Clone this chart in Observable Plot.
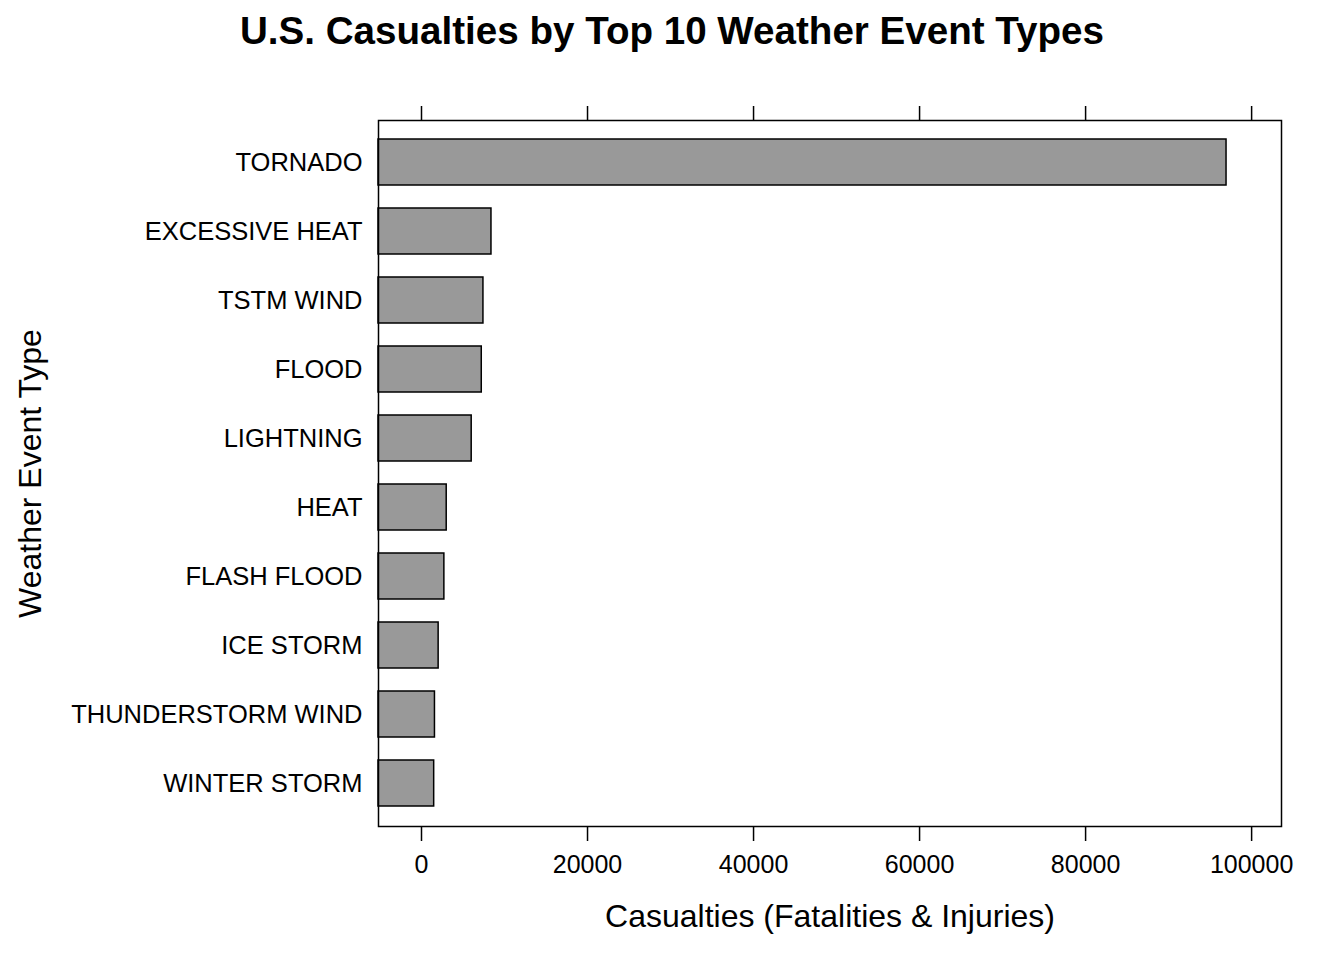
<!DOCTYPE html>
<html>
<head>
<meta charset="utf-8">
<script src="https://cdn.jsdelivr.net/npm/d3@7"></script>
<script src="https://cdn.jsdelivr.net/npm/@observablehq/plot@0.6"></script>
<style>
  html, body { margin: 0; padding: 0; background: #fff; }
  #title { width: 1344px; height: 60px; text-align: center; font-family: "Liberation Sans", Arial, sans-serif; font-weight: bold; font-size: 38.6px; line-height: 62px; color: #000; }
  svg { display: block; }
</style>
</head>
<body>
<div id="title">U.S. Casualties by Top 10 Weather Event Types</div>
<div id="chart"></div>
<script>
const eventTypes = ["TORNADO", "EXCESSIVE HEAT", "TSTM WIND", "FLOOD", "LIGHTNING", "HEAT", "FLASH FLOOD", "ICE STORM", "THUNDERSTORM WIND", "WINTER STORM"];
const casualties = [96979, 8428, 7461, 7259, 6046, 3037, 2755, 2064, 1621, 1527];
const xTicks = [0, 20000, 40000, 60000, 80000, 100000];
const xDomain = [-5180, 103600];

const data = eventTypes.map((t, i) => ({type: t, value: casualties[i]}));

const chart = Plot.plot({
  width: 1344,
  height: 900,
  marginTop: 60,
  marginBottom: 134,
  marginLeft: 378,
  marginRight: 63,
  style: {fontFamily: "'Liberation Sans', Arial, sans-serif", color: "#000", background: "#fff"},
  x: {domain: xDomain},
  y: {domain: eventTypes, type: "band", paddingInner: 0.333, paddingOuter: 0.267},
  marks: [
    Plot.barX(data, {y: "type", x1: () => xDomain[0], x2: "value", fill: "#999999", stroke: "#000", strokeWidth: 1.5}),
    Plot.frame({stroke: "#000", strokeWidth: 1.5}),
    Plot.axisX({anchor: "top", ticks: xTicks, tickSize: 15, tickFormat: () => "", strokeWidth: 1.5, label: null}),
    Plot.axisX({anchor: "bottom", ticks: xTicks, tickSize: 15, tickPadding: 14, tickFormat: d3.format("d"), fontSize: 25, strokeWidth: 1.5, label: null}),
    Plot.axisY({anchor: "left", tickSize: 0, tickPadding: 16, fontSize: 25.5, label: null}),
    Plot.text(["Casualties (Fatalities & Injuries)"], {frameAnchor: "bottom", dy: 100, fontSize: 32, fill: "#000"}),
    Plot.text(["Weather Event Type"], {frameAnchor: "left", textAnchor: "middle", rotate: -90, dx: -348, fontSize: 32, fill: "#000"})
  ]
});
document.getElementById("chart").appendChild(chart);
</script>
</body>
</html>
